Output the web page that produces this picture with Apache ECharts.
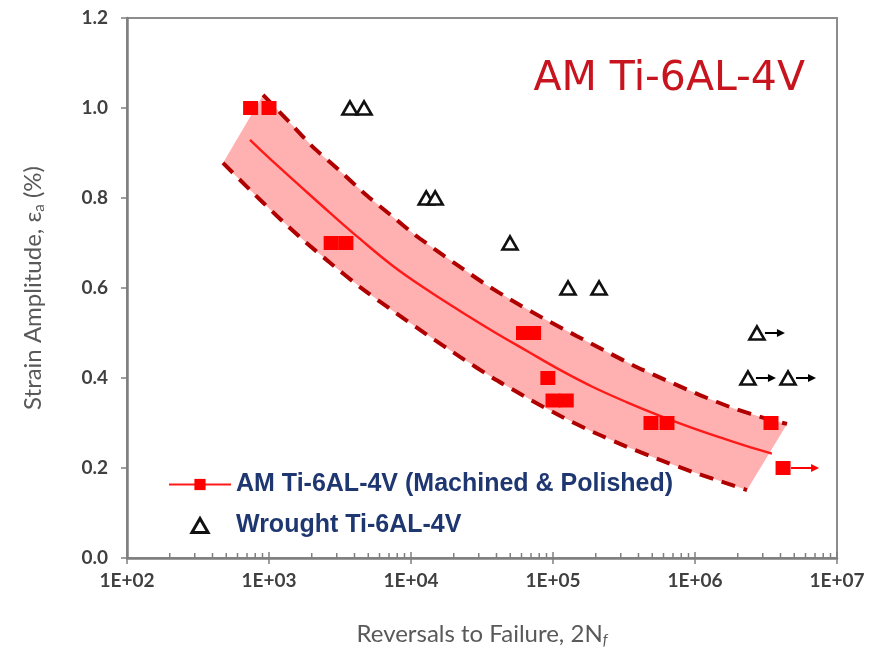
<!DOCTYPE html>
<html>
<head>
<meta charset="utf-8">
<script src="https://cdn.jsdelivr.net/npm/echarts@6/dist/echarts.min.js"></script>
<style>
html,body{margin:0;padding:0;background:#fff;}
#chart{width:874px;height:658px;}
</style>
</head>
<body>
<div id="chart"></div>
<script>
// ---------- data ----------
const amName = 'AM Ti-6AL-4V (Machined & Polished)';
const wrName = 'Wrought Ti-6AL-4V';
const titleText = 'AM Ti-6AL-4V';

// AM Ti-6Al-4V test points (reversals, strain amplitude %)
const amX = [742, 1000, 2740, 3480, 62000, 73000, 92000, 100000, 124000, 490000, 635000, 3430000, 4170000];
const amY = [1.0, 1.0, 0.7, 0.7, 0.5, 0.5, 0.4, 0.35, 0.35, 0.3, 0.3, 0.3, 0.2];
const amRunout = [false, false, false, false, false, false, false, false, false, false, false, false, true];

// Wrought Ti-6Al-4V test points
const wrX = [3715, 4670, 12800, 14800, 49800, 127600, 211000, 2730000, 2360000, 4520000];
const wrY = [1.0, 1.0, 0.8, 0.8, 0.7, 0.6, 0.6, 0.5, 0.4, 0.4];
const wrRunout = [false, false, false, false, false, false, false, true, true, true];

// fitted strain-life curve
const fitX = [735, 1000, 1650, 2690, 4375, 7460, 12970, 22130, 37760, 65600, 112000, 191000, 332000, 567000, 923000, 1500000, 2285000, 3480000];
const fitY = [0.929, 0.889, 0.827, 0.767, 0.709, 0.649, 0.596, 0.549, 0.504, 0.460, 0.418, 0.380, 0.346, 0.316, 0.291, 0.268, 0.249, 0.232];

// upper scatter band bound
const upX = [908, 1406, 2042, 3162, 4743, 7464, 10670, 15990, 22130, 33190, 52250, 85040, 147600, 240000, 390600, 666400, 1084000, 1852000, 3214000, 4446000];
const upY = [1.029, 0.967, 0.913, 0.860, 0.809, 0.758, 0.718, 0.678, 0.647, 0.609, 0.571, 0.533, 0.493, 0.458, 0.424, 0.391, 0.362, 0.333, 0.309, 0.298];

// lower scatter band bound
const loX = [474, 735, 1138, 1734, 2690, 4375, 7464, 12970, 22130, 37760, 65600, 112000, 191000, 332000, 567000, 968000, 1500000, 2323000];
const loY = [0.878, 0.818, 0.760, 0.707, 0.656, 0.602, 0.549, 0.496, 0.447, 0.400, 0.356, 0.316, 0.280, 0.247, 0.218, 0.191, 0.171, 0.151];

// axes
const xMin = 100, xMax = 10000000;
const yMin = 0, yMax = 1.2, yStep = 0.2;
const xMajor = [100, 1000, 10000, 100000, 1000000, 10000000];
const minorMult = [2, 3, 4, 5, 6, 7, 8, 9];

// ---------- helpers ----------
const pair = (xs, ys) => xs.map((x, i) => [x, ys[i]]);
const minorTicks = [];
xMajor.slice(0, -1).forEach(d => minorMult.forEach(m => minorTicks.push([d * m, 0, 0])));
xMajor.forEach(d => minorTicks.push([d, 0, 1]));

function arrowRenderer(color, len) {
  return function (params, api) {
    const p = api.coord([api.value(0), api.value(1)]);
    const x0 = p[0] + 8, x1 = p[0] + len;
    return {
      type: 'group',
      children: [
        { type: 'line', shape: { x1: x0, y1: p[1], x2: x1 - 6, y2: p[1] }, style: { stroke: color, lineWidth: 2 } },
        { type: 'polygon', shape: { points: [[x1, p[1]], [x1 - 8, p[1] - 4], [x1 - 8, p[1] + 4]] }, style: { fill: color } }
      ]
    };
  };
}

const labelColor = '#404040';
const nameColor = '#595959';

const option = {
  animation: false,
  backgroundColor: '#fff',
  grid: { left: 127, right: 37, top: 18, bottom: 100, show: true, borderColor: '#8c8c8c', borderWidth: 2 },
  title: {
    text: titleText, right: 64, top: 54,
    textStyle: { color: '#c8141e', fontSize: 41, fontWeight: 'normal', fontFamily: 'DejaVu Sans' }
  },
  legend: {
    left: 163, top: 467, orient: 'vertical',
    itemWidth: 62, itemHeight: 14, itemGap: 16,
    textStyle: { fontFamily: 'Liberation Sans', fontWeight: 'bold', fontSize: 25, color: '#1f3771' },
    data: [
      { name: amName },
      { name: wrName, icon: 'path://M0,13 L7.5,0 L15,13 Z', itemStyle: { borderWidth: 3 } }
    ]
  },
  xAxis: {
    type: 'log', logBase: 10, min: xMin, max: xMax,
    axisLine: { lineStyle: { color: '#7f7f7f', width: 2.5 } },
    axisTick: { show: true, length: 6, lineStyle: { color: '#7f7f7f', width: 1.5 } },
    splitLine: { show: false },
    axisLabel: {
      fontFamily: 'Lato', fontWeight: 'bold', fontSize: 19, color: labelColor, margin: 13,
      showMinLabel: true, showMaxLabel: true,
      formatter: v => '1E+' + String(Math.round(Math.log10(v))).padStart(2, '0')
    },
    name: '{n|Reversals to Failure, 2N}{s|f}',
    nameLocation: 'middle', nameGap: 63,
    nameTextStyle: {
      rich: {
        n: { fontFamily: 'Lato', fontSize: 24, color: nameColor },
        s: { fontFamily: 'Lato', fontSize: 15, fontStyle: 'italic', color: nameColor, padding: [12, 0, 0, 0] }
      }
    }
  },
  yAxis: {
    type: 'value', min: yMin, max: yMax, interval: yStep,
    axisLine: { show: true, lineStyle: { color: '#7f7f7f', width: 2.5 } },
    axisTick: { show: true, length: 6, lineStyle: { color: '#7f7f7f', width: 1.5 } },
    splitLine: { show: false },
    axisLabel: {
      fontFamily: 'Lato', fontWeight: 'bold', fontSize: 19, color: labelColor, margin: 19,
      formatter: v => v.toFixed(1)
    },
    name: '{n|Strain Amplitude, ε}{s|a}{n| (%)}',
    nameLocation: 'middle', nameGap: 80, nameRotate: 90,
    nameTextStyle: {
      rich: {
        n: { fontFamily: 'Lato', fontSize: 24, color: nameColor },
        s: { fontFamily: 'Lato', fontSize: 15, color: nameColor, padding: [12, 0, 0, 0] }
      }
    }
  },
  series: [
    {
      type: 'custom', name: 'band', silent: true, z: 1,
      data: [[1000, 0.5]],
      renderItem: function (params, api) {
        const pts = [];
        upX.forEach((x, i) => pts.push(api.coord([x, upY[i]])));
        for (let i = loX.length - 1; i >= 0; i--) pts.push(api.coord([loX[i], loY[i]]));
        return { type: 'polygon', shape: { points: pts }, style: { fill: '#ffb1b1' } };
      }
    },
    {
      type: 'line', name: 'upper', silent: true, z: 2, smooth: 0.2, showSymbol: false, symbol: 'none',
      data: pair(upX, upY),
      lineStyle: { color: '#b00000', width: 4, type: [14, 9] }
    },
    {
      type: 'line', name: 'lower', silent: true, z: 2, smooth: 0.2, showSymbol: false, symbol: 'none',
      data: pair(loX, loY),
      lineStyle: { color: '#b00000', width: 4, type: [14, 9] }
    },
    {
      type: 'line', name: amName, z: 3, smooth: 0.4, showSymbol: false, symbol: 'rect', symbolSize: 13,
      data: pair(fitX, fitY),
      lineStyle: { color: '#ff1a1a', width: 2.4 },
      itemStyle: { color: '#ff0000' }
    },
    {
      type: 'custom', name: 'minorTicks', silent: true, z: 5,
      data: minorTicks,
      renderItem: function (params, api) {
        const p = api.coord([api.value(0), 0]);
        const h = api.value(2) ? 6 : 5;
        return { type: 'line', shape: { x1: p[0], y1: p[1], x2: p[0], y2: p[1] - h }, style: { stroke: '#7f7f7f', lineWidth: 1.5 } };
      }
    },
    {
      type: 'custom', name: 'amArrows', silent: true, z: 4,
      data: pair(amX, amY).filter((d, i) => amRunout[i]),
      renderItem: arrowRenderer('#ff0000', 36)
    },
    {
      type: 'custom', name: 'wrArrows', silent: true, z: 4,
      data: pair(wrX, wrY).filter((d, i) => wrRunout[i]),
      renderItem: arrowRenderer('#000000', 28)
    },
    {
      type: 'scatter', name: amName, z: 6,
      symbol: 'rect', symbolSize: [15, 14],
      data: pair(amX, amY),
      itemStyle: { color: '#ff0000', opacity: 1 }
    },
    {
      type: 'scatter', name: wrName, z: 6,
      symbol: 'triangle', symbolSize: [15, 13],
      data: pair(wrX, wrY),
      itemStyle: { color: '#ffffff', borderColor: '#111111', borderWidth: 2.6, opacity: 1 }
    }
  ]
};

const chart = echarts.init(document.getElementById('chart'), null, { renderer: 'canvas' });
chart.setOption(option);
</script>
</body>
</html>
